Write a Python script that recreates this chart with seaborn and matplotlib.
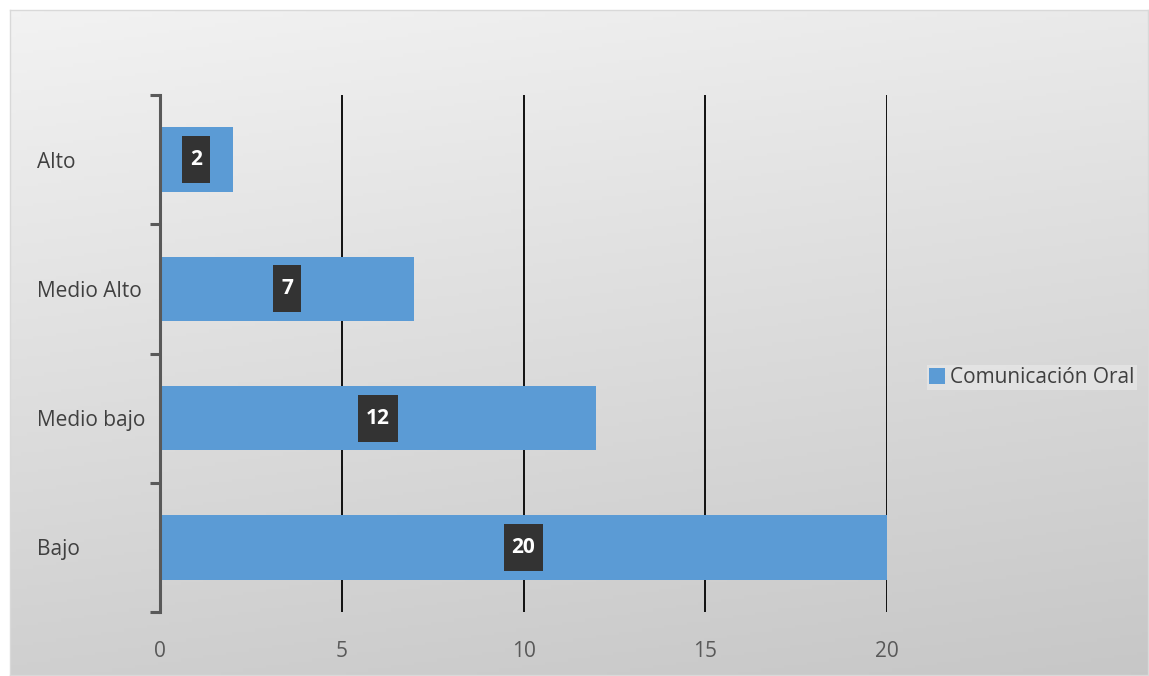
import numpy as np
import pandas as pd
import matplotlib.pyplot as plt
import seaborn as sns
from matplotlib.path import Path

# datos
niveles = ['Alto', 'Medio Alto', 'Medio bajo', 'Bajo']
valores = [2, 7, 12, 20]
serie = 'Comunicación Oral'

df = pd.DataFrame({'nivel': niveles, 'valor': valores})

sns.set_style('white')
plt.rcParams['font.family'] = ['Open Sans', 'DejaVu Sans']

fig = plt.figure(figsize=(11.49, 6.76), dpi=100)
fig.patch.set_facecolor('white')

# fondo degradado
bg = fig.add_axes([10 / 1149, 1 / 676, 1138 / 1149, 665 / 676], zorder=0)
yy, xx = np.mgrid[0:1:200j, 0:1:200j]
grad = 0.95 - 0.17 * (0.8 * yy + 0.2 * xx)
bg.imshow(np.dstack([grad] * 3), aspect='auto', extent=[0, 1, 0, 1], origin='upper')
bg.set_xticks([])
bg.set_yticks([])
for s in bg.spines.values():
    s.set_color('#d9d9d9')
    s.set_linewidth(1)

ax = fig.add_axes([160 / 1149, 1 - 612 / 676, 727 / 1149, 517 / 676], zorder=1)
ax.patch.set_alpha(0)

sns.barplot(data=df, x='valor', y='nivel', order=niveles, color='#5b9bd5',
            saturation=1, width=0.5, orient='h', ax=ax, label=serie, linewidth=0)

ax.set_xlim(0, 20)
ax.set_ylim(3.5, -0.5)
ax.set_xticks([0, 5, 10, 15, 20])
ax.grid(axis='x', color='black', linewidth=1.3)
ax.grid(axis='y', visible=False)
ax.set_axisbelow(True)

for side in ['top', 'right', 'bottom']:
    ax.spines[side].set_visible(False)
ax.spines['left'].set_color('#595959')
ax.spines['left'].set_linewidth(2.2)

ax.set_yticks(np.arange(-0.5, 4, 1), minor=True)
ax.tick_params(axis='y', which='minor', left=True, length=7, width=2.2, color='#595959')
ax.tick_params(axis='y', which='major', length=0, pad=88.5, labelsize=15, labelcolor='#404040')
ax.tick_params(axis='x', length=0, pad=21, labelsize=15, labelcolor='#595959')
for lab in ax.get_yticklabels():
    lab.set_horizontalalignment('left')
ax.set_xlabel('')
ax.set_ylabel('')


# caja de etiqueta más alta que ancha
def caja_alta(x0, y0, width, height, mutation_size):
    px = 0.38 * mutation_size
    py = 0.62 * mutation_size
    x0, y0 = x0 - px, y0 - py
    x1, y1 = x0 + width + 2 * px, y0 + height + 2 * py
    return Path([(x0, y0), (x1, y0), (x1, y1), (x0, y1), (x0, y0)], closed=True)


for i, v in enumerate(valores):
    ax.text(v / 2, i, str(v), ha='center', va='center', color='white',
            fontsize=15, fontweight='bold', zorder=5,
            bbox=dict(boxstyle=caja_alta, facecolor='#333333', edgecolor='none'))

leg = ax.legend(loc='center left', bbox_to_anchor=(1.0555, 0.453), frameon=True,
                fontsize=15, handlelength=0.75, handleheight=0.75, handletextpad=0.25,
                borderpad=0.1, borderaxespad=0, fancybox=False)
leg.get_frame().set_facecolor('#e6e6e6')
leg.get_frame().set_edgecolor('none')
for t in leg.get_texts():
    t.set_color('#404040')

fig.savefig('out.png', dpi=100)
